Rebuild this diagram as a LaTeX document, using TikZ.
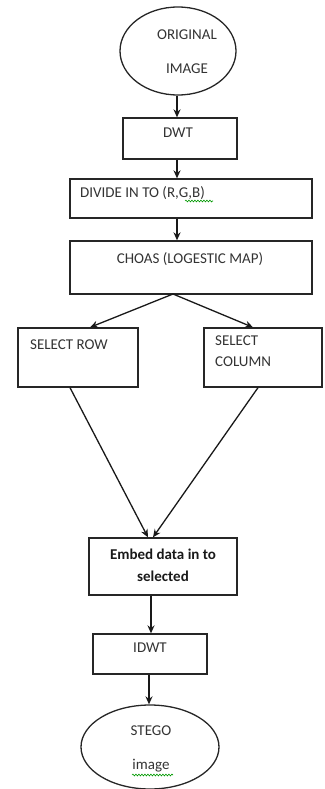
\documentclass[tikz,border=0pt]{standalone}
\usepackage{fontspec}
\setmainfont{Carlito}
\usetikzlibrary{%
  arrows.meta,%
  shapes.geometric,%
  calc,%
  decorations.pathmorphing
}

\tikzset{
  box/.style={draw=black!85,line width=1.3pt,inner sep=0pt},
  term/.style={box,ellipse},
  txt/.style={font=\fontsize{15}{18}\selectfont,text=black!80,inner sep=0pt,align=center},
  arr/.style={-{Stealth[length=8pt,width=7pt]},line width=1.3pt,black!90},
  typo/.style={green!60!black,line width=0.6pt,decorate,
               decoration={snake,amplitude=0.9pt,segment length=3pt}}
}

\begin{document}
\begin{tikzpicture}[x=1pt,y=-1pt]
      \useasboundingbox (0,0) rectangle (324,789);
      % start and end
      \node [term,minimum width=116pt,minimum height=88pt] (orig) at (178,51) {};
      \node [txt] (orig-t) at (187,52) {ORIGINAL\\[16pt]IMAGE};
      \node [term,minimum width=138pt,minimum height=84pt] (stego) at (150,747) {};
      \node [txt] (stego-t) at (151,749) {STEGO\\[16pt]image};
      % processing steps
      \node [box,minimum width=114pt,minimum height=41pt] (dwt) at (180,138.5) {};
      \node [txt] (dwt-t) at (178,133) {DWT};
      \node [box,minimum width=242pt,minimum height=39pt] (divide) at (191,198.5) {};
      \node [txt,anchor=west] (divide-t) at (80,193) {DIVIDE IN TO (R,G,B)};
      \node [box,minimum width=242pt,minimum height=53pt] (choas) at (191,267.5) {};
      \node [txt] (choas-t) at (190,259) {CHOAS (LOGESTIC MAP)};
      \node [box,minimum width=120pt,minimum height=59pt] (selrow) at (78,357.5) {};
      \node [txt,anchor=west] (selrow-t) at (30,345) {SELECT ROW};
      \node [box,minimum width=118pt,minimum height=59pt] (selcol) at (263,357.5) {};
      \node [txt,align=left,anchor=north west] (selcol-t) at (215,336) {SELECT\\[3pt]COLUMN};
      \node [box,minimum width=148pt,minimum height=57pt] (embed) at (163,566.5) {};
      \node [txt,font=\fontsize{15}{18}\selectfont\bfseries,text=black!90] (embed-t) at (163,565.5)
        {Embed data in to\\[4pt]selected};
      \node [box,minimum width=114pt,minimum height=40pt] (idwt) at (150,654) {};
      \node [txt] (idwt-t) at (150,648) {IDWT};
      % spelling marks
      \draw [typo] (185,201) -- (213,201);
      \draw [typo] (132,775) -- (173,775);
      % flow
      \coordinate (fork) at (173,294);
      \draw [arr] (orig.south -| 177,0) -- (dwt.north -| 177,0);
      \draw [arr] (dwt.south -| 177,0) -- (divide.north -| 177,0);
      \draw [arr] (divide.south -| 177,0) -- (choas.north -| 177,0);
      \draw [arr] (fork) -- ($(selrow.north)+(12,0)$);
      \draw [arr] (fork) -- ($(selcol.north)+(-10,0)$);
      \draw [arr] ($(selrow.south)+(-8,0)$) -- ($(embed.north)+(-15,0)$);
      \draw [arr] ($(selcol.south)+(-5,0)$) -- ($(embed.north)+(-10,0)$);
      \draw [arr] (embed.south -| 151,0) -- (idwt.north -| 151,0);
      \draw [arr] (idwt.south -| 149,0) -- (stego.north -| 149,0);
    \end{tikzpicture}
\end{document}
